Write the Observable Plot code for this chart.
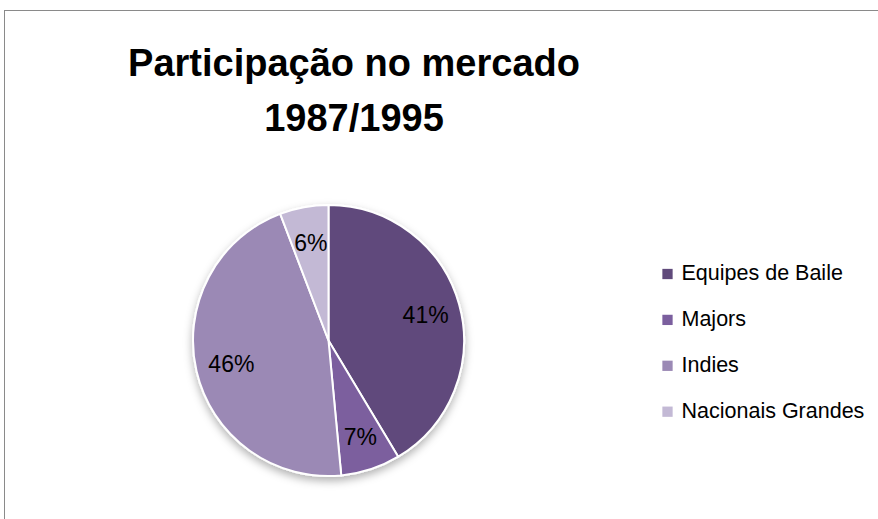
<!DOCTYPE html>
<html>
<head>
<meta charset="utf-8">
<script src="https://cdn.jsdelivr.net/npm/d3@7"></script>
<script src="https://cdn.jsdelivr.net/npm/@observablehq/plot@0.6"></script>
<style>
  html, body { margin: 0; padding: 0; background: #fff; }
  #wrap { position: relative; width: 878px; height: 519px; overflow: hidden; }
  #frame { position: absolute; left: 4px; top: 10px; right: -2px; bottom: -2px;
           border-left: 1px solid #8a8a8a; border-top: 1px solid #8a8a8a; pointer-events: none; }
  #title { position: absolute; left: 0; top: 36px; width: 708px; text-align: center;
           font-family: "Liberation Sans", Arial, sans-serif; font-weight: bold;
           font-size: 38px; line-height: 55px; color: #000; }
  #chart { position: absolute; left: 0; top: 0; }
</style>
</head>
<body>
<div id="wrap">
  <div id="chart"></div>
  <div id="frame"></div>
  <div id="title"></div>
</div>
<script>
// ---- data ----
const categories = ["Equipes de Baile", "Majors", "Indies", "Nacionais Grandes"];
const shares = [41.4, 7.1, 45.7, 5.8];
const colors = ["#604a7b", "#7b5f9e", "#9b89b5", "#c3b9d5"];
const titleLines = ["Participação no mercado", "1987/1995"];

// ---- layout ----
const W = 878, H = 519;
const cx = 328.5, cy = 340.5, R = 135.5;
const labelR = R * 0.74;
const legendX = 667, legendTextX = 681, legendY0 = 272, legendStep = 45.9;

document.getElementById("title").innerHTML = titleLines.join("<br>");

const data = categories.map((c, i) => ({category: c, value: shares[i]}));
const total = d3.sum(shares);
const arcs = d3.pie().sort(null).value(d => d.value)(data);
const labelArc = d3.arc().innerRadius(labelR).outerRadius(labelR);
const labels = arcs.map(a => {
  const [dx, dy] = labelArc.centroid(a);
  return {x: cx + dx, y: cy + dy, text: Math.round(a.data.value / total * 100) + "%"};
});
const legend = categories.map((c, i) => ({category: c, row: i}));

function pieMark(index, scales) {
  const color = scales.color || d3.scaleOrdinal(categories, colors);
  const px = scales.x(cx), py = scales.y(cy);
  const svg = d3.create("svg:g");
  const defs = svg.append("defs");
  const f = defs.append("filter").attr("id", "pieShadow")
    .attr("x", "-20%").attr("y", "-20%").attr("width", "140%").attr("height", "140%");
  f.append("feDropShadow").attr("dx", 0).attr("dy", 4).attr("stdDeviation", 4)
    .attr("flood-color", "#000").attr("flood-opacity", 0.3);
  const arc = d3.arc().innerRadius(0).outerRadius(R);
  const g = svg.append("g").attr("transform", `translate(${px},${py})`).attr("filter", "url(#pieShadow)");
  g.selectAll("path").data(arcs).join("path")
    .attr("d", arc)
    .attr("fill", d => color(d.data.category))
    .attr("stroke", "#fff")
    .attr("stroke-width", 2)
    .attr("stroke-linejoin", "round");
  return svg.node();
}

const chart = Plot.plot({
  width: W, height: H, margin: 0,
  x: {domain: [0, W], range: [0, W], axis: null},
  y: {domain: [0, H], range: [0, H], axis: null},
  color: {domain: categories, range: colors},
  style: {fontFamily: "'Liberation Sans', Arial, sans-serif", background: "transparent", overflow: "visible"},
  marks: [
    pieMark,
    Plot.text(labels, {x: "x", y: "y", text: "text", fontSize: 23, fill: "#000", textAnchor: "middle", lineAnchor: "middle", dy: 1}),
    Plot.dot(legend, {x: () => legendX, y: d => legendY0 + d.row * legendStep + 1.5, symbol: "square", r: 5.8, fill: "category", stroke: null}),
    Plot.text(legend, {x: () => legendTextX, y: d => legendY0 + d.row * legendStep, text: "category", fill: "category", fontSize: 21.5, textAnchor: "start", lineAnchor: "middle", dy: 1, fill: "#000"})
  ]
});
document.getElementById("chart").appendChild(chart);
</script>
</body>
</html>
